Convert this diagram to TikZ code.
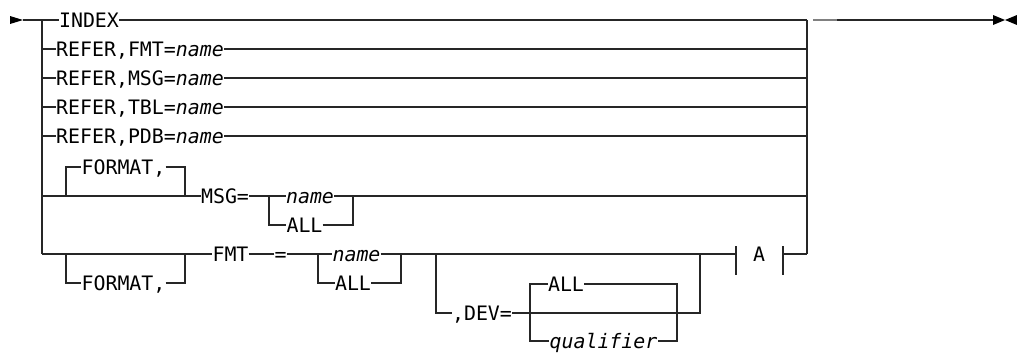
\documentclass[tikz,border=0pt]{standalone}
\usepackage{fontspec}
\newfontfamily\mono{DejaVu Sans Mono}
\tikzset{
  t/.style={inner sep=0pt, text height=14.5pt, text depth=0pt, font=\mono\fontsize{19.9}{24}\selectfont},
  ti/.style={t, font=\mono\fontsize{19.9}{24}\selectfont\itshape},
  rail/.style={line width=1.2pt, draw=black!85},
  tipfill/.style={fill=black, draw=none},
}
\begin{document}
\begin{tikzpicture}[x=1pt,y=-1pt]
\useasboundingbox (0,0) rectangle (1017,354);
% key coordinates
\coordinate (s) at (23,20);
\coordinate (L0) at (42,20);
\coordinate (LB) at (42,254);
\coordinate (R0) at (807,20);
\coordinate (RB) at (807,254);
\coordinate (E) at (993,20);
\coordinate (g1) at (813,20);
\coordinate (g2) at (837,20);
% texts
\node[t] (idx) at (89,20) {INDEX};
\node[t] (rf) at (140,49) {REFER,FMT=\textit{name}};
\node[t] (rm) at (140,78) {REFER,MSG=\textit{name}};
\node[t] (rt) at (140,107) {REFER,TBL=\textit{name}};
\node[t] (rp) at (140,136) {REFER,PDB=\textit{name}};
\node[t] (fa) at (123.5,167) {FORMAT,};
\node[t] (msg) at (225,196) {MSG=};
\node[ti] (n1) at (310,196) {name};
\node[t] (a1) at (304.5,225) {ALL};
\node[t] (fmt) at (230.5,254) {FMT};
\node[t] (eq) at (280.5,254) {=};
\node[ti] (n2) at (356.5,254) {name};
\node[t] (a2) at (353,283) {ALL};
\node[t] (fb) at (123.5,283) {FORMAT,};
\node[t] (dev) at (482,313) {,DEV=};
\node[t] (da) at (566,284) {ALL};
\node[ti] (q) at (603.5,341) {qualifier};
\node[t] (A) at (759,254.5) {A};
% start and end marks
\fill[tipfill] (10,16) -- (s) -- (10,24) -- cycle;
\fill[tipfill] (993,15) -- (1005,20) -- (993,25) -- cycle;
\fill[tipfill] (1017,15) -- (1005,20) -- (1017,25) -- cycle;
% main line
\draw[rail] (s) -- (idx.west);
\draw[rail] (idx.east) -- (R0);
\draw[line width=1.6pt, draw=black!50] (g1) -- (g2);
\draw[rail] (g2) -- (E);
% rails
\draw[rail] (L0) -- (LB);
\draw[rail] (R0) -- (RB);
% REFER rows
\foreach \r in {rf,rm,rt,rp}{
  \draw[rail] (L0 |- \r) -- (\r.west);
  \draw[rail] (\r.east) -- (R0 |- \r);
}
% MSG row
\coordinate (fa1) at (66,196);
\coordinate (fa2) at (185,196);
\coordinate (c1) at (269,196);
\coordinate (c2) at (353,196);
\draw[rail] (L0 |- msg) -- (msg.west);
\draw[rail] (fa1) |- (fa.west);
\draw[rail] (fa.east) -| (fa2);
\draw[rail] (msg.east) -- (c1) -- (n1.west);
\draw[rail] (n1.east) -- (c2) -- (R0 |- msg);
\draw[rail] (c1) |- (a1.west);
\draw[rail] (a1.east) -| (c2);
% FMT row
\coordinate (fb1) at (66,254);
\coordinate (fb2) at (185,254);
\coordinate (k1) at (318,254);
\coordinate (k2) at (401,254);
\coordinate (D0) at (436,254);
\coordinate (D1) at (700,254);
\coordinate (D2) at (700,313);
\coordinate (AL) at (736,254);
\coordinate (AR) at (783,254);
\draw[rail] (LB) -- (fmt.west);
\draw[rail] (fb1) |- (fb.west);
\draw[rail] (fb.east) -| (fb2);
\draw[rail] (fmt.east) -- (eq.west);
\draw[rail] (eq.east) -- (k1) -- (n2.west);
\draw[rail] (n2.east) -- (k2) -- (AL);
\draw[rail] (k1) |- (a2.west);
\draw[rail] (a2.east) -| (k2);
% DEV
\draw[rail] (D0) |- (dev.west);
\draw[rail] (dev.east) -- (D2) -- (D1);
\coordinate (d1) at (530,284);
\coordinate (d2) at (530,341);
\coordinate (d3) at (677,284);
\coordinate (d4) at (677,341);
\draw[rail] (da.west) -- (d1) -- (d2) -- (q.west);
\draw[rail] (da.east) -- (d3) -- (d4) -- (q.east);
% A reference box
\draw[rail] (736,246) -- (736,275);
\draw[rail] (783,246) -- (783,275);
\draw[rail] (AR) -- (RB);
\end{tikzpicture}
\end{document}
